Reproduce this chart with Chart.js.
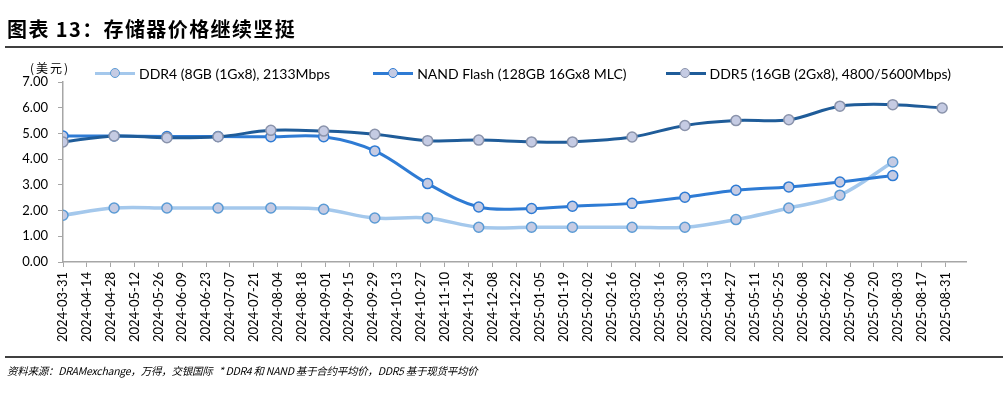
<!DOCTYPE html>
<html>
<head>
<meta charset="utf-8">
<script src="https://cdn.jsdelivr.net/npm/chart.js@4.4.1/dist/chart.umd.min.js"></script>
<style>
  html, body { margin: 0; padding: 0; background: #fff; }
  #wrap { position: relative; width: 1003px; height: 396px; overflow: hidden; font-family: Lato, "Noto Sans CJK SC", sans-serif; }
  #chart { position: absolute; left: 0; top: 0; }
  #title { position: absolute; left: 7px; top: 17px; font: 700 20px "Noto Sans CJK SC", sans-serif; letter-spacing: 1.4px; line-height: 24px; color: #000; white-space: nowrap; }
  .rule { position: absolute; left: 5px; width: 998px; height: 2px; background: #404040; }
  #unit { position: absolute; left: 30px; top: 60px; font: 12px "Noto Sans CJK SC", sans-serif; letter-spacing: 2px; line-height: 16px; color: #000; }
  #legend { position: absolute; left: 95px; top: 64px; display: flex; align-items: center; height: 18px; }
  .li { display: flex; align-items: center; font: 14px Lato, sans-serif; color: #000; white-space: nowrap; }
  .ico { position: relative; width: 40px; height: 12px; margin-right: 4px; }
  .ico .ln { position: absolute; left: 0; right: 0; top: 4.5px; height: 3px; }
  .ico .mk { position: absolute; left: 14.5px; top: 0.5px; width: 8px; height: 8px; border-radius: 50%; border: 1.5px solid; background: #c5cbe3; }
  #foot { position: absolute; left: 7px; top: 364px; font: italic 10.5px "Noto Sans CJK SC", sans-serif; letter-spacing: -0.25px; line-height: 14px; color: #000; white-space: pre; }
</style>
</head>
<body>
<div id="wrap">
  <canvas id="chart" width="1003" height="396"></canvas>
  <div id="title">图表 13：存储器价格继续坚挺</div>
  <div class="rule" style="top:46px"></div>
  <div id="unit">(美元)</div>
  <div id="legend"></div>
  <div class="rule" style="top:356px"></div>
  <div id="foot">资料来源：DRAMexchange，万得，交银国际   * DDR4 和 NAND 基于合约平均价，DDR5 基于现货平均价</div>
</div>
<script>
// ---- data ----
const startDate = '2024-03-31';
const axisEndDays = 530;
const tickStepDays = 14;
const dates = ['2024-03-31','2024-04-30','2024-05-31','2024-06-30','2024-07-31','2024-08-31',
               '2024-09-30','2024-10-31','2024-11-30','2024-12-31','2025-01-24','2025-02-28',
               '2025-03-31','2025-04-30','2025-05-31','2025-06-30','2025-07-31','2025-08-29'];
const seriesNames = ['DDR4 (8GB (1Gx8), 2133Mbps', 'NAND Flash (128GB 16Gx8 MLC)', 'DDR5 (16GB (2Gx8), 4800/5600Mbps)'];
const ddr4 = [1.82,2.10,2.10,2.10,2.10,2.05,1.71,1.71,1.35,1.35,1.35,1.35,1.35,1.65,2.10,2.60,3.89,null];
const nand = [4.90,4.90,4.88,4.88,4.87,4.87,4.32,3.05,2.14,2.08,2.17,2.28,2.52,2.79,2.92,3.11,3.36,null];
const ddr5 = [4.67,4.90,4.83,4.87,5.12,5.09,4.97,4.72,4.74,4.67,4.67,4.86,5.31,5.50,5.53,6.06,6.12,5.99];
const yTicks = [0,1,2,3,4,5,6,7];

// ---- styles ----
const lineColors = ['#a4c8ec', '#2e7bd4', '#1f5c99'];
const markerBorders = ['#5b9bd5', '#2e7bd4', '#8a93ab'];
const markerFill = '#c5cbe3';
const lineWidths = [3.5, 3, 3];
const legendGaps = [43, 39, 0];

const DAY = 86400000;
const t0 = Date.parse(startDate);
const dayOf = d => Math.round((Date.parse(d) - t0) / DAY);
const toPoints = arr => dates.map((d, i) => ({x: dayOf(d), y: arr[i]})).filter(p => p.y !== null);

// legend (HTML)
const legend = document.getElementById('legend');
seriesNames.forEach((name, i) => {
  const li = document.createElement('div');
  li.className = 'li';
  li.style.marginRight = legendGaps[i] + 'px';
  li.innerHTML = '<div class="ico"><div class="ln" style="background:' + lineColors[i] + '"></div>' +
    '<div class="mk" style="border-color:' + markerBorders[i] + '"></div></div>';
  const sp = document.createElement('span');
  sp.textContent = name;
  li.appendChild(sp);
  legend.appendChild(li);
});

Chart.defaults.font.family = 'Lato, sans-serif';
Chart.defaults.font.size = 13;
Chart.defaults.color = '#000';

const seriesData = [ddr4, nand, ddr5];
const datasets = seriesData.map((arr, i) => ({
  label: seriesNames[i],
  data: toPoints(arr),
  borderColor: lineColors[i],
  borderWidth: lineWidths[i],
  pointBackgroundColor: markerFill,
  pointBorderColor: markerBorders[i],
  pointBorderWidth: 1.5,
  pointRadius: 5,
  tension: 0.35,
  order: 3 - i,
  fill: false
}));

new Chart(document.getElementById('chart'), {
  type: 'line',
  data: { datasets },
  options: {
    responsive: false,
    animation: false,
    events: [],
    layout: { padding: { left: 0, top: 82, right: 37, bottom: 44 } },
    plugins: { legend: { display: false }, tooltip: { enabled: false } },
    scales: {
      x: {
        type: 'linear',
        min: 0,
        max: axisEndDays,
        afterFit: s => { s.height = 90; },
        border: { color: '#a6a6a6', width: 1.5 },
        grid: { drawOnChartArea: false, drawTicks: true, tickLength: 5, color: '#a6a6a6', lineWidth: 1 },
        ticks: {
          stepSize: tickStepDays,
          includeBounds: false,
          autoSkip: false,
          minRotation: 90,
          maxRotation: 90,
          padding: 5,
          callback: v => new Date(t0 + v * DAY).toISOString().slice(0, 10)
        }
      },
      y: {
        min: yTicks[0],
        max: yTicks[yTicks.length - 1],
        afterFit: s => { s.width = 63; },
        border: { color: '#a6a6a6', width: 1.5 },
        grid: { drawOnChartArea: false, drawTicks: true, tickLength: 5, color: '#a6a6a6', lineWidth: 1 },
        ticks: { stepSize: 1, padding: 10, callback: v => Number(v).toFixed(2) }
      }
    }
  }
});
</script>
</body>
</html>
